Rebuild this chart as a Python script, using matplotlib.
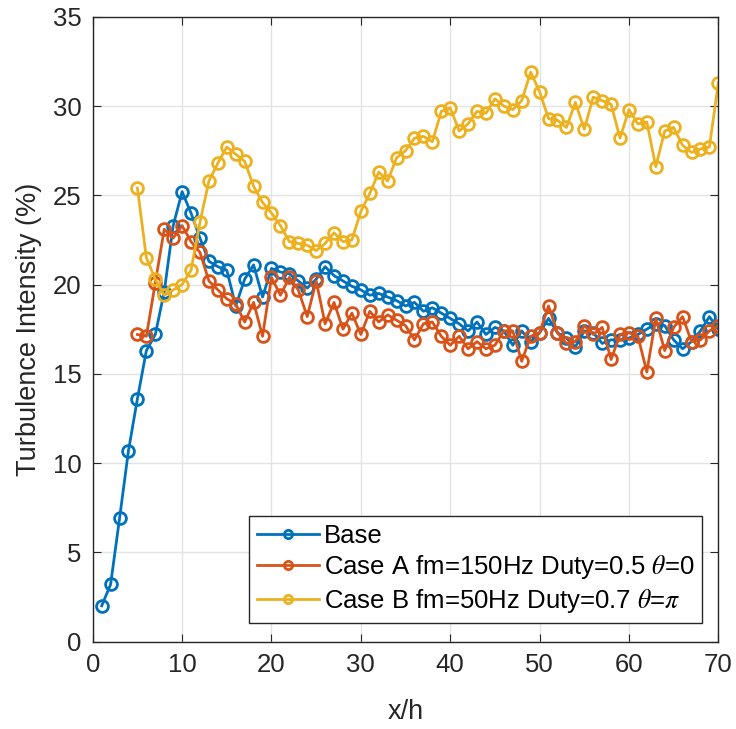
import numpy as np
import matplotlib
matplotlib.use("Agg")
import matplotlib.pyplot as plt

plt.rcParams['font.family'] = ['Liberation Sans', 'DejaVu Sans']
plt.rcParams['mathtext.fontset'] = 'stix'

# Base case, x/h = 1..70
x_base = list(range(1, 71))
ti_base = [2.0, 3.2, 6.9, 10.7, 13.6, 16.3, 17.2, 19.6, 23.3, 25.2,
           24.0, 22.6, 21.3, 21.0, 20.8, 18.8, 20.3, 21.1, 19.3, 20.9,
           20.7, 20.6, 20.2, 19.8, 20.3, 21.0, 20.5, 20.2, 19.9, 19.7,
           19.4, 19.5, 19.3, 19.1, 18.8, 19.0, 18.5, 18.7, 18.4, 18.1,
           17.8, 17.4, 17.9, 17.2, 17.6, 17.4, 16.6, 17.4, 16.8, 17.3,
           18.1, 17.3, 17.0, 16.5, 17.4, 17.3, 16.7, 16.9, 16.9, 17.0,
           17.2, 17.5, 17.8, 17.7, 16.9, 16.4, 16.8, 17.4, 18.2, 17.5]

# Case A and Case B, x/h = 5..70
x_case = list(range(5, 71))
ti_a = [17.2, 17.1, 20.1, 23.1, 22.6, 23.3, 22.4, 21.8, 20.2, 19.7,
        19.2, 18.9, 17.9, 19.0, 17.1, 20.4, 19.4, 20.4, 19.7, 18.2,
        20.2, 17.8, 19.0, 17.5, 18.4, 17.2, 18.5, 17.9, 18.3, 18.0,
        17.7, 16.9, 17.8, 17.9, 17.1, 16.6, 17.1, 16.4, 16.8, 16.4,
        16.6, 17.4, 17.4, 15.7, 17.1, 17.3, 18.8, 17.3, 16.7, 16.8,
        17.7, 17.2, 17.6, 15.8, 17.2, 17.3, 17.1, 15.1, 18.1, 16.3,
        17.6, 18.2, 16.8, 16.9, 17.4, 17.7]
ti_b = [25.4, 21.5, 20.3, 19.4, 19.7, 20.0, 20.8, 23.5, 25.8, 26.8,
        27.7, 27.3, 26.9, 25.5, 24.6, 24.0, 23.3, 22.4, 22.3, 22.2,
        21.9, 22.3, 22.9, 22.4, 22.5, 24.1, 25.1, 26.3, 25.8, 27.1,
        27.5, 28.2, 28.3, 28.0, 29.7, 29.9, 28.6, 29.0, 29.7, 29.6,
        30.4, 30.0, 29.8, 30.3, 31.9, 30.8, 29.3, 29.2, 28.8, 30.2,
        28.7, 30.5, 30.3, 30.1, 28.2, 29.8, 29.0, 29.1, 26.6, 28.6,
        28.8, 27.8, 27.4, 27.6, 27.7, 31.3]

labels = ['Base',
          r'Case A fm=150Hz Duty=0.5 $\theta$=0',
          r'Case B fm=50Hz Duty=0.7 $\theta$=$\pi$']
colors = ['#0072BD', '#D95319', '#EDB120']

fig = plt.figure(figsize=(7.36, 7.29), dpi=100)
ax = fig.add_axes([0.126, 0.12, 0.85, 0.857])

series = [(x_base, ti_base), (x_case, ti_a), (x_case, ti_b)]
for (xs, ys), lab, c in zip(series, labels, colors):
    ax.plot(xs, ys, '-o', color=c, lw=2, ms=8.5, mfc='none', mew=2, label=lab)

ax.set_xlim(0, 70)
ax.set_ylim(0, 35)
ax.set_xticks(range(0, 71, 10))
ax.set_yticks(range(0, 36, 5))
ax.grid(True, color='#e3e3e3', lw=1)
ax.set_axisbelow(True)
ax.tick_params(direction='in', top=True, right=True, labelsize=18.5,
               colors='#262626', length=6, pad=8)
for s in ax.spines.values():
    s.set_color('#262626')
    s.set_linewidth(1)

ax.set_xlabel('x/h', fontsize=19.5, color='#262626', labelpad=16)
ax.set_ylabel('Turbulence Intensity (%)', fontsize=19.5, color='#262626', labelpad=8)

leg = ax.legend(loc='lower right', bbox_to_anchor=(0.974, 0.03), fontsize=18.5,
                fancybox=False, framealpha=1, edgecolor='#262626',
                handlelength=2.4, borderpad=0.3, labelspacing=0.22,
                handletextpad=0.2, borderaxespad=0, markerscale=0.7)
leg.get_frame().set_linewidth(1)

fig.savefig('out.png', dpi=100)
